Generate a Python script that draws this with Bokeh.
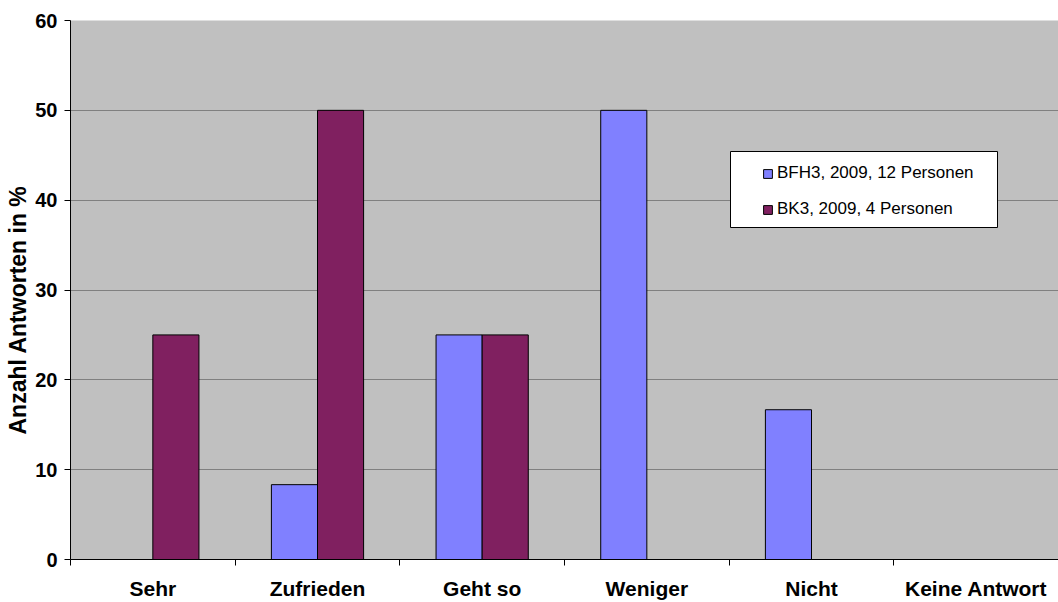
from bokeh.plotting import figure
from bokeh.models import Range1d, FixedTicker, Legend, LegendItem, BoxAnnotation, Title
from bokeh.embed import file_html
from bokeh.resources import INLINE

categories = ["Sehr", "Zufrieden", "Geht so", "Weniger", "Nicht", "Keine Antwort"]
bfh3 = [0, 8.33, 25, 50, 16.67, 0]
bk3 = [25, 50, 25, 0, 0, 0]
series_names = ["BFH3, 2009, 12 Personen", "BK3, 2009, 4 Personen"]
series_colors = ["#8080FF", "#802060"]
y_ticks = [0, 10, 20, 30, 40, 50, 60]
y_title = "Anzahl Antworten in %"

n = len(categories)
centers = [i + 0.5 for i in range(n)]
bounds = [i for i in range(n + 1)]
bar_w = 0.28

FONT = "Liberation Sans"

p = figure(width=1058, height=602, output_backend="svg", toolbar_location=None,
           x_range=Range1d(0, n), y_range=Range1d(y_ticks[0], y_ticks[-1]),
           min_border_left=70, min_border_right=0, min_border_top=20, min_border_bottom=40)

p.background_fill_color = "#C0C0C0"
p.border_fill_color = "white"
p.outline_line_color = None

r1 = p.vbar(x=[c - bar_w / 2 for c in centers], top=bfh3, width=bar_w, bottom=0,
            fill_color=series_colors[0], line_color="black", line_width=1)
r2 = p.vbar(x=[c + bar_w / 2 for c in centers], top=bk3, width=bar_w, bottom=0,
            fill_color=series_colors[1], line_color="black", line_width=1)

# x axis
p.xaxis.ticker = FixedTicker(ticks=centers, minor_ticks=bounds)
p.xaxis.major_label_overrides = {c: name for c, name in zip(centers, categories)}
p.xaxis.major_tick_out = 0
p.xaxis.major_tick_in = 0
p.xaxis.minor_tick_out = 6
p.xaxis.minor_tick_in = 0
p.xaxis.minor_tick_line_color = "black"
p.xaxis.axis_line_color = "black"
p.xaxis.major_label_text_font = FONT
p.xaxis.major_label_text_font_style = "bold"
p.xaxis.major_label_text_font_size = "21px"
p.xaxis.major_label_text_color = "black"
p.xaxis.major_label_standoff = 11
p.xgrid.visible = False

# y axis
p.yaxis.ticker = FixedTicker(ticks=y_ticks)
p.yaxis.minor_tick_line_color = None
p.yaxis.major_tick_out = 6
p.yaxis.major_tick_in = 0
p.yaxis.major_tick_line_color = "black"
p.yaxis.axis_line_color = "black"
p.yaxis.major_label_text_font = FONT
p.yaxis.major_label_text_font_style = "bold"
p.yaxis.major_label_text_font_size = "20px"
p.yaxis.major_label_text_color = "black"
p.yaxis.major_label_standoff = 7
p.ygrid.grid_line_color = "#808080"
p.ygrid.grid_line_width = 1

ytitle = Title(text=y_title, align="left", offset=125, standoff=4,
               text_font=FONT, text_font_style="bold", text_font_size="23px",
               text_color="black")
p.add_layout(ytitle, "left")

box = BoxAnnotation(left=660, right=927, bottom=332, top=408,
                    left_units="screen", right_units="screen",
                    top_units="screen", bottom_units="screen",
                    fill_color="white", fill_alpha=1, line_color="black",
                    line_width=1, line_alpha=1)
p.add_layout(box)

legend = Legend(items=[LegendItem(label=series_names[0], renderers=[r1]),
                       LegendItem(label=series_names[1], renderers=[r2])],
                location=(692, 340), padding=0, margin=0, spacing=16,
                label_height=20, glyph_height=11, glyph_width=11, label_standoff=4,
                background_fill_alpha=0, border_line_color=None,
                label_text_font=FONT, label_text_font_size="17px",
                label_text_color="black")
p.add_layout(legend)

open("out.html", "w").write(file_html(p, INLINE))
